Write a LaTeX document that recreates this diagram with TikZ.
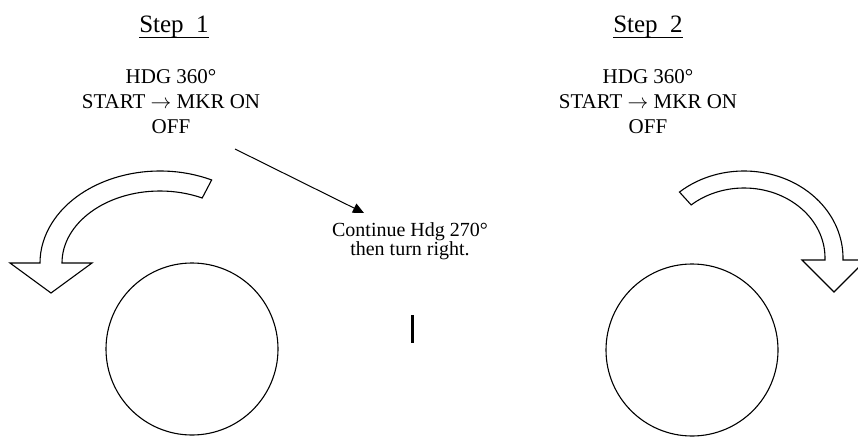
\documentclass[tikz,border=0pt]{standalone}
\usepackage{fontspec}
\setmainfont{Liberation Serif}
\usetikzlibrary{arrows.meta,calc}
\begin{document}
\begin{tikzpicture}[x=1pt,y=-1pt,
  outline/.style={draw=black,line width=1.1pt,fill=white,line join=miter},
  title/.style={font=\fontsize{25}{28}\selectfont,inner sep=0pt,anchor=base},
  cmd/.style={font=\fontsize{21}{25}\selectfont,inner sep=0pt,anchor=base},
  note/.style={font=\fontsize{20}{20}\selectfont,inner sep=0pt,anchor=base},
  pointer/.style={draw=black,line width=1pt,-{Triangle[length=11pt,width=10pt]}},
  ring/.style={draw=black,line width=1.1pt}]
\useasboundingbox (0,0) rectangle (858,436);

% column titles, underlined
\node[title] (t1) at (174,33) {Step~~1};
\node[title] (t2) at (648,33) {Step~~2};
\draw[line width=1pt] ($(t1.base west)+(0,5)$) -- ($(t1.base east)+(0,5)$);
\draw[line width=1pt] ($(t2.base west)+(0,5)$) -- ($(t2.base east)+(0,5)$);

% marker settings, left column
\node[cmd] (h1) at (171,83)  {HDG 360°};
\node[cmd] (s1) at (171,108) {START $\rightarrow$ MKR ON};
\node[cmd] (o1) at (171,133) {OFF};
% marker settings, right column
\node[cmd] (h2) at (648,83)  {HDG 360°};
\node[cmd] (s2) at (648,108) {START $\rightarrow$ MKR ON};
\node[cmd] (o2) at (648,133) {OFF};

% left turn arrow
\draw[outline]
  (160,263) ++(-64.5:120 and 92) arc[start angle=-64.5,end angle=-180,x radius=120,y radius=92]
  -- (10,263) -- (51,293) -- (92,263) -- (62,263)
  arc[start angle=-180,end angle=-64.5,x radius=98,y radius=72] -- cycle;

% right turn arrow
\draw[outline]
  (744,258) ++(-130.7:99 and 87) arc[start angle=-130.7,end angle=0,x radius=99,y radius=87]
  -- (843,260) -- (866,260) -- (834,292) -- (802,260) -- (825,260) -- (825,258)
  arc[start angle=0,end angle=-130.7,x radius=81,y radius=70] -- cycle;

% heading dials
\node[ring,circle,minimum size=172pt,inner sep=0pt] (c1) at (192,349) {};
\node[ring,circle,minimum size=172pt,inner sep=0pt] (c2) at (692,350) {};

% note with its pointer
\node[note] (n1) at (410,236) {Continue Hdg 270°};
\node[note] (n2) at (410,255) {then turn right.};
\coordinate (p0) at (235,149);
\coordinate (p1) at (364,213);
\draw[pointer] (p0) -- (p1);

% cursor bar
\draw[line width=3pt] (412,315) -- (412,343);
\end{tikzpicture}
\end{document}
